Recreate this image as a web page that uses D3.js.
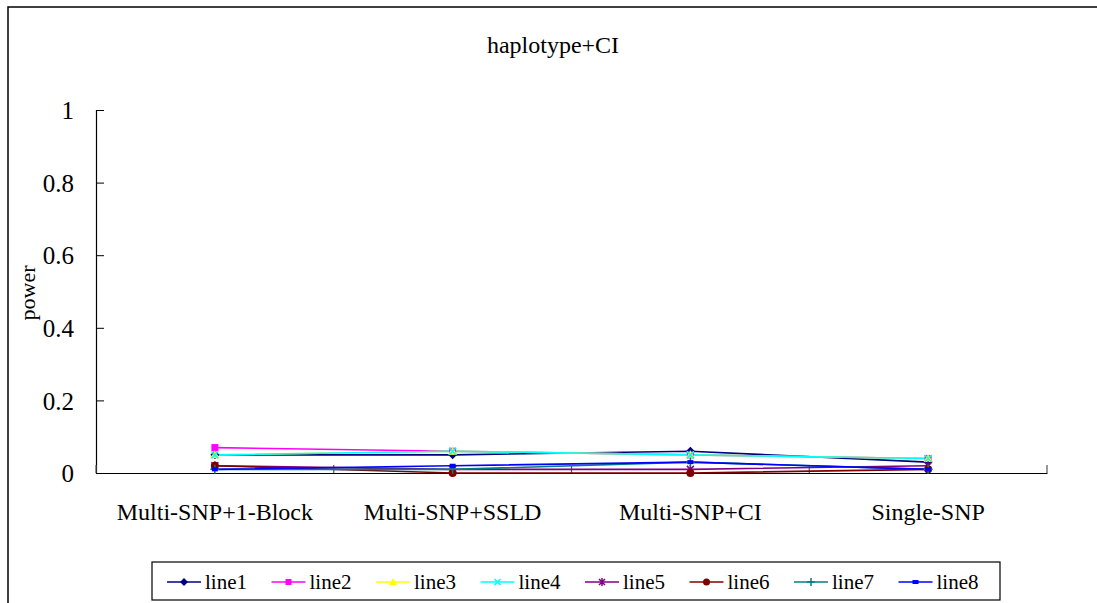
<!DOCTYPE html>
<html lang="en">
	<head>
		<meta charset="utf-8">
		<title>haplotype+CI</title>
		<script type="text/javascript" src="https://cdn.jsdelivr.net/npm/d3@7"></script>
		<style type="text/css">
			body { margin: 0; background: #fff; }
			text {
				font-family: "Liberation Serif", "DejaVu Serif", serif;
				fill: #000;
			}
		</style>
	</head>
	<body>
		<script type="text/javascript">

			//Data
			let categories = ["Multi-SNP+1-Block", "Multi-SNP+SSLD", "Multi-SNP+CI", "Single-SNP"];
			let seriesNames = ["line1", "line2", "line3", "line4", "line5", "line6", "line7", "line8"];
			let line1 = [0.05, 0.05, 0.06, 0.03];
			let line2 = [0.07, 0.06, 0.05, 0.04];
			let line3 = [0.05, 0.06, 0.05, 0.04];
			let line4 = [0.05, 0.06, 0.05, 0.04];
			let line5 = [0.02, 0.01, 0.01, 0.02];
			let line6 = [0.02, 0.00, 0.00, 0.01];
			let line7 = [0.01, 0.01, 0.03, 0.01];
			let line8 = [0.01, 0.02, 0.03, 0.01];
			let yTicks = [0, 0.2, 0.4, 0.6, 0.8, 1];

			let seriesValues = [line1, line2, line3, line4, line5, line6, line7, line8];
			let colors = ["#000080", "#ff00ff", "#ffff00", "#00ffff", "#800080", "#800000", "#008080", "#0000ff"];
			let shapes = ["diamond", "square", "triangle", "x", "star", "circle", "plus", "dash"];

			//Width and height
			let w = 1097;
			let h = 603;

			let svg = d3.select("body")
						.append("svg")
						  .attr("width", w)
						  .attr("height", h);

			//Outer frame
			svg.append("rect")
				.attr("x", 8).attr("y", 7)
				.attr("width", 1100).attr("height", 620)
				.attr("fill", "none")
				.attr("stroke", "#000")
				.attr("stroke-width", 1.5);

			//Scales
			let x = d3.scaleBand()
					  .domain(categories)
					  .range([96, 1047])
					  .padding(0);
			let y = d3.scaleLinear()
					  .domain([0, 1])
					  .range([473, 110]);

			//Title
			svg.append("text")
				.attr("x", 553).attr("y", 53)
				.attr("text-anchor", "middle")
				.style("font-size", "24px")
				.text("haplotype+CI");

			//Y axis
			let yAxis = svg.append("g")
				.attr("transform", "translate(96,0)")
				.call(d3.axisLeft(y).tickValues(yTicks).tickSize(-8).tickPadding(22).tickFormat(d3.format("")));
			yAxis.select(".domain").attr("stroke", "#000").attr("stroke-width", 1.2);
			yAxis.selectAll(".tick line").attr("stroke", "#000");
			yAxis.selectAll(".tick text")
				.style("font-size", "25px")
				.attr("font-family", null)
				.attr("dy", "0.35em");

			svg.append("text")
				.attr("transform", "translate(35,293) rotate(-90)")
				.attr("text-anchor", "middle")
				.style("font-size", "22px")
				.text("power");

			//X axis
			let xAxis = svg.append("g")
				.attr("transform", "translate(0,473)")
				.call(d3.axisBottom(x).tickSize(0).tickPadding(30));
			xAxis.select(".domain").attr("stroke", "#000").attr("stroke-width", 1.2);
			xAxis.selectAll(".tick text")
				.style("font-size", "24px")
				.attr("font-family", null);

			//Boundary ticks
			let edges = categories.map(c => x(c)).concat([x.range()[1]]);
			svg.append("g")
				.selectAll("line")
				.data(edges)
				.enter()
			  .append("line")
				.attr("x1", d => d).attr("x2", d => d)
				.attr("y1", 473).attr("y2", 465)
				.attr("stroke", "#555")
				.attr("stroke-width", 1.2);

			let cx = c => x(c) + x.bandwidth() / 2;

			//Marker drawing
			function marker(g, shape, color, s) {
				if (shape === "diamond") {
					g.append("path").attr("d", `M0,${-s}L${s},0L0,${s}L${-s},0Z`).attr("fill", color);
				} else if (shape === "square") {
					g.append("rect").attr("x", -s + 1).attr("y", -s + 1).attr("width", 2 * s - 2).attr("height", 2 * s - 2).attr("fill", color);
				} else if (shape === "triangle") {
					g.append("path").attr("d", `M0,${-s}L${s},${s - 1}L${-s},${s - 1}Z`).attr("fill", color);
				} else if (shape === "x") {
					g.append("path").attr("d", `M${-s + 1},${-s + 1}L${s - 1},${s - 1}M${s - 1},${-s + 1}L${-s + 1},${s - 1}`)
					  .attr("stroke", color).attr("stroke-width", 1.5);
				} else if (shape === "star") {
					g.append("path").attr("d", `M${-s + 1},${-s + 1}L${s - 1},${s - 1}M${s - 1},${-s + 1}L${-s + 1},${s - 1}M0,${-s}L0,${s}`)
					  .attr("stroke", color).attr("stroke-width", 1.5);
				} else if (shape === "circle") {
					g.append("circle").attr("r", s - 0.5).attr("fill", color);
				} else if (shape === "plus") {
					g.append("path").attr("d", `M${-s},0L${s},0M0,${-s}L0,${s}`)
					  .attr("stroke", color).attr("stroke-width", 1.5);
				} else if (shape === "dash") {
					g.append("rect").attr("x", -3).attr("y", -2).attr("width", 6).attr("height", 4).attr("fill", color);
				}
			}

			//Lines
			let line = d3.line()
						 .x((d, i) => cx(categories[i]))
						 .y(d => y(d));

			seriesValues.forEach((vals, k) => {
				svg.append("path")
					.attr("d", line(vals))
					.attr("fill", "none")
					.attr("stroke", colors[k])
					.attr("stroke-width", 1.6);
			});
			seriesValues.forEach((vals, k) => {
				vals.forEach((v, i) => {
					let g = svg.append("g").attr("transform", `translate(${cx(categories[i])},${y(v)})`);
					marker(g, shapes[k], colors[k], 4.5);
				});
			});

			//Legend
			svg.append("rect")
				.attr("x", 152).attr("y", 562)
				.attr("width", 848).attr("height", 38)
				.attr("fill", "#fff")
				.attr("stroke", "#000")
				.attr("stroke-width", 1.2);

			let legend = svg.selectAll("g.legend")
							.data(seriesNames)
							.enter()
						  .append("g")
							.attr("class", "legend")
							.attr("transform", (d, i) => `translate(${167 + i * 104.5},582)`);
			legend.append("line")
				.attr("x1", 0).attr("x2", 34)
				.attr("stroke", (d, i) => colors[i])
				.attr("stroke-width", 1.6);
			legend.each(function(d, i) {
				let g = d3.select(this).append("g").attr("transform", "translate(17,0)");
				marker(g, shapes[i], colors[i], 4);
			});
			legend.append("text")
				.attr("x", 38).attr("y", 0)
				.attr("dy", "0.35em")
				.style("font-size", "21px")
				.text(d => d);

		</script>
	</body>
</html>
